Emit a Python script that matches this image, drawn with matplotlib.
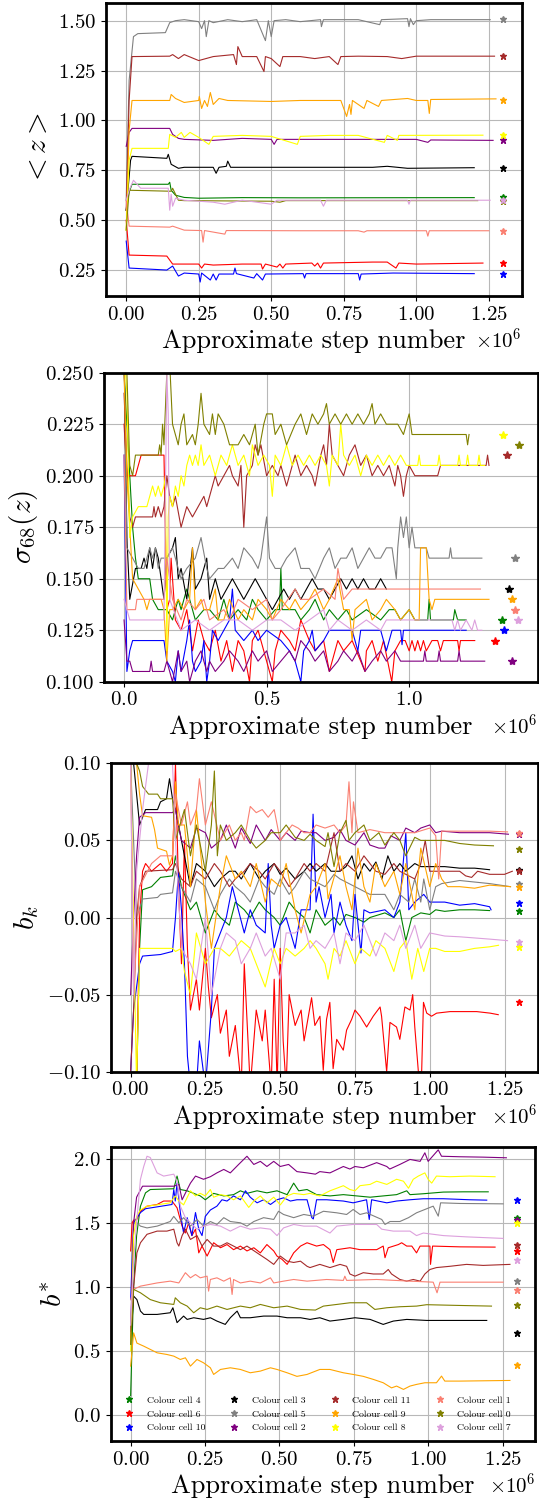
import matplotlib
matplotlib.use('Agg')
import matplotlib.pyplot as plt
from matplotlib.ticker import MultipleLocator

plt.rcParams['font.family'] = 'serif'
plt.rcParams['font.serif'] = ['cmr10']
plt.rcParams['mathtext.fontset'] = 'cm'
plt.rcParams['axes.formatter.use_mathtext'] = True

# colour cells, in the order they show up in the legend
cells = [4, 6, 10, 3, 5, 2, 11, 9, 8, 1, 0, 7]
colours = {0: 'olive', 1: 'salmon', 2: 'purple', 3: 'black', 4: 'green', 5: 'grey',
           6: 'red', 7: 'plum', 8: 'yellow', 9: 'orange', 10: 'blue', 11: 'brown'}

# (step / 1e6, value) pairs
mean_z = {
    5: [(0, 0.60), (0.01, 1.20), (0.025, 1.42), (0.04, 1.435), (0.135, 1.44), (0.15, 1.49), (0.17, 1.50), (0.2, 1.505), (0.25, 1.495), (0.26, 1.46), (0.27, 1.50), (0.276, 1.42), (0.285, 1.50), (0.3, 1.49), (0.35, 1.505), (0.4, 1.495), (0.45, 1.505), (0.48, 1.40), (0.49, 1.50), (0.5, 1.42), (0.51, 1.50), (0.55, 1.505), (0.6, 1.495), (0.67, 1.505), (0.673, 1.47), (0.68, 1.505), (0.8, 1.505), (0.874, 1.48), (0.88, 1.505), (0.97, 1.51), (0.975, 1.47), (0.98, 1.51), (0.99, 1.48), (1.0, 1.50), (1.05, 1.505), (1.255, 1.505)],
    11: [(0, 0.55), (0.01, 1.10), (0.02, 1.32), (0.15, 1.322), (0.16, 1.33), (0.18, 1.31), (0.2, 1.33), (0.25, 1.30), (0.3, 1.32), (0.37, 1.33), (0.38, 1.28), (0.385, 1.37), (0.4, 1.32), (0.45, 1.32), (0.475, 1.245), (0.48, 1.32), (0.5, 1.31), (0.53, 1.27), (0.54, 1.32), (0.6, 1.32), (0.65, 1.31), (0.7, 1.32), (0.73, 1.28), (0.74, 1.32), (0.8, 1.322), (0.9, 1.32), (0.95, 1.31), (1.0, 1.322), (1.27, 1.322)],
    9: [(0, 0.45), (0.01, 0.95), (0.02, 1.10), (0.15, 1.10), (0.155, 1.13), (0.17, 1.11), (0.2, 1.09), (0.25, 1.10), (0.252, 1.12), (0.26, 1.06), (0.27, 1.10), (0.28, 1.07), (0.29, 1.14), (0.3, 1.08), (0.32, 1.11), (0.35, 1.10), (0.5, 1.095), (0.6, 1.10), (0.74, 1.10), (0.76, 1.02), (0.77, 1.08), (0.775, 1.03), (0.78, 1.10), (0.82, 1.06), (0.83, 1.10), (0.87, 1.07), (0.88, 1.10), (0.97, 1.11), (1.0, 1.10), (1.04, 1.10), (1.045, 1.035), (1.05, 1.105), (1.275, 1.108)],
    8: [(0, 0.45), (0.01, 0.80), (0.02, 0.86), (0.145, 0.86), (0.15, 0.93), (0.17, 0.915), (0.19, 0.94), (0.2, 0.915), (0.22, 0.94), (0.25, 0.915), (0.285, 0.88), (0.3, 0.92), (0.4, 0.925), (0.5, 0.92), (0.59, 0.88), (0.6, 0.92), (0.7, 0.925), (0.8, 0.925), (0.89, 0.89), (0.9, 0.925), (0.935, 0.90), (0.94, 0.925), (1.23, 0.926)],
    2: [(0, 0.87), (0.01, 0.94), (0.02, 0.96), (0.15, 0.96), (0.16, 0.93), (0.18, 0.91), (0.2, 0.905), (0.3, 0.90), (0.4, 0.91), (0.5, 0.905), (0.51, 0.88), (0.52, 0.905), (0.6, 0.905), (0.8, 0.905), (1.0, 0.905), (1.04, 0.89), (1.05, 0.902), (1.265, 0.90)],
    3: [(0, 0.55), (0.015, 0.80), (0.02, 0.82), (0.14, 0.81), (0.145, 0.83), (0.155, 0.78), (0.18, 0.76), (0.2, 0.765), (0.3, 0.765), (0.31, 0.735), (0.32, 0.765), (0.345, 0.77), (0.35, 0.796), (0.36, 0.765), (0.6, 0.765), (0.85, 0.765), (0.9, 0.77), (0.97, 0.76), (1.2, 0.763)],
    4: [(0, 0.55), (0.01, 0.64), (0.02, 0.68), (0.145, 0.68), (0.15, 0.69), (0.155, 0.65), (0.17, 0.625), (0.2, 0.614), (0.25, 0.61), (0.4, 0.613), (0.6, 0.612), (1.2, 0.613)],
    7: [(0, 0.60), (0.01, 0.65), (0.025, 0.70), (0.05, 0.66), (0.145, 0.66), (0.15, 0.55), (0.155, 0.63), (0.16, 0.57), (0.17, 0.61), (0.2, 0.60), (0.3, 0.59), (0.34, 0.58), (0.4, 0.60), (0.5, 0.58), (0.52, 0.60), (0.67, 0.60), (0.68, 0.57), (0.69, 0.60), (0.97, 0.60), (0.975, 0.58), (0.98, 0.60), (1.255, 0.60)],
    0: [(0, 0.45), (0.01, 0.65), (0.155, 0.645), (0.16, 0.66), (0.18, 0.60), (0.2, 0.598), (0.5, 0.595), (0.53, 0.59), (0.55, 0.598), (1.212, 0.598)],
    1: [(0, 0.60), (0.01, 0.47), (0.15, 0.465), (0.16, 0.47), (0.2, 0.45), (0.26, 0.448), (0.265, 0.39), (0.27, 0.448), (0.34, 0.43), (0.345, 0.448), (0.6, 0.447), (0.8, 0.447), (0.82, 0.44), (0.83, 0.447), (1.035, 0.447), (1.04, 0.42), (1.045, 0.447), (1.25, 0.447)],
    6: [(0, 0.50), (0.01, 0.325), (0.14, 0.32), (0.16, 0.28), (0.2, 0.28), (0.25, 0.28), (0.26, 0.26), (0.27, 0.28), (0.3, 0.275), (0.4, 0.28), (0.465, 0.28), (0.47, 0.255), (0.48, 0.28), (0.52, 0.265), (0.53, 0.28), (0.54, 0.26), (0.55, 0.28), (0.64, 0.285), (0.65, 0.27), (0.66, 0.285), (0.67, 0.26), (0.68, 0.285), (0.85, 0.29), (0.9, 0.29), (0.93, 0.26), (0.94, 0.285), (1.0, 0.28), (1.23, 0.285)],
    10: [(0, 0.395), (0.01, 0.26), (0.14, 0.25), (0.16, 0.27), (0.18, 0.22), (0.2, 0.235), (0.25, 0.23), (0.255, 0.19), (0.26, 0.235), (0.29, 0.20), (0.3, 0.23), (0.31, 0.20), (0.32, 0.23), (0.37, 0.23), (0.375, 0.26), (0.38, 0.232), (0.44, 0.21), (0.45, 0.232), (0.47, 0.20), (0.48, 0.23), (0.61, 0.232), (0.615, 0.21), (0.62, 0.232), (0.8, 0.232), (0.805, 0.20), (0.81, 0.23), (0.92, 0.235), (1.2, 0.232)],
}
mean_z_stars = {5: 1.506, 11: 1.322, 9: 1.102, 8: 0.928, 2: 0.901, 3: 0.763, 4: 0.617,
                7: 0.60, 0: 0.595, 1: 0.447, 6: 0.283, 10: 0.23}

sigma68 = {
    0: [(0, 0.26), (0.01, 0.25), (0.02, 0.205), (0.03, 0.2), (0.04, 0.21), (0.12, 0.21), (0.125, 0.215), (0.13, 0.21), (0.135, 0.225), (0.14, 0.215), (0.15, 0.25), (0.16, 0.255), (0.17, 0.225), (0.18, 0.22), (0.19, 0.215), (0.2, 0.225), (0.21, 0.23), (0.22, 0.215), (0.24, 0.22), (0.25, 0.215), (0.26, 0.225), (0.27, 0.24), (0.28, 0.225), (0.3, 0.22), (0.31, 0.23), (0.32, 0.22), (0.33, 0.23), (0.35, 0.225), (0.37, 0.215), (0.4, 0.215), (0.42, 0.22), (0.44, 0.215), (0.46, 0.225), (0.47, 0.21), (0.49, 0.225), (0.5, 0.23), (0.52, 0.23), (0.53, 0.22), (0.55, 0.225), (0.57, 0.215), (0.6, 0.225), (0.62, 0.23), (0.64, 0.22), (0.66, 0.23), (0.68, 0.225), (0.7, 0.23), (0.71, 0.235), (0.72, 0.225), (0.74, 0.23), (0.76, 0.225), (0.78, 0.23), (0.8, 0.225), (0.82, 0.23), (0.84, 0.225), (0.86, 0.23), (0.87, 0.235), (0.88, 0.225), (0.9, 0.23), (0.92, 0.225), (0.96, 0.225), (0.98, 0.22), (0.99, 0.225), (1.0, 0.23), (1.01, 0.22), (1.2, 0.22), (1.205, 0.215), (1.21, 0.22)],
    8: [(0, 0.26), (0.01, 0.24), (0.02, 0.17), (0.03, 0.18), (0.05, 0.185), (0.08, 0.185), (0.09, 0.19), (0.1, 0.195), (0.11, 0.19), (0.12, 0.195), (0.13, 0.19), (0.14, 0.195), (0.145, 0.20), (0.15, 0.115), (0.155, 0.18), (0.16, 0.19), (0.17, 0.185), (0.18, 0.195), (0.19, 0.19), (0.2, 0.2), (0.21, 0.195), (0.22, 0.205), (0.23, 0.21), (0.24, 0.205), (0.25, 0.21), (0.26, 0.205), (0.27, 0.215), (0.28, 0.205), (0.3, 0.21), (0.32, 0.2), (0.34, 0.21), (0.36, 0.205), (0.38, 0.215), (0.4, 0.205), (0.42, 0.21), (0.44, 0.2), (0.45, 0.215), (0.47, 0.205), (0.49, 0.21), (0.51, 0.205), (0.52, 0.19), (0.53, 0.21), (0.55, 0.205), (0.57, 0.215), (0.59, 0.205), (0.61, 0.21), (0.63, 0.205), (0.65, 0.21), (0.67, 0.205), (0.69, 0.21), (0.71, 0.205), (0.72, 0.195), (0.73, 0.21), (0.75, 0.205), (0.76, 0.225), (0.77, 0.21), (0.79, 0.205), (0.81, 0.21), (0.83, 0.2), (0.85, 0.21), (0.87, 0.205), (0.89, 0.21), (0.91, 0.205), (0.93, 0.21), (0.95, 0.205), (0.97, 0.21), (0.99, 0.205), (1.03, 0.205), (1.035, 0.21), (1.04, 0.205), (1.1, 0.205), (1.105, 0.21), (1.11, 0.205), (1.17, 0.205), (1.175, 0.21), (1.18, 0.205), (1.2, 0.205), (1.205, 0.21), (1.21, 0.205), (1.24, 0.205), (1.245, 0.21), (1.25, 0.205), (1.265, 0.205)],
    11: [(0, 0.24), (0.01, 0.205), (0.02, 0.18), (0.03, 0.175), (0.04, 0.18), (0.1, 0.18), (0.105, 0.185), (0.11, 0.18), (0.12, 0.185), (0.13, 0.18), (0.14, 0.185), (0.15, 0.2), (0.16, 0.19), (0.17, 0.185), (0.18, 0.19), (0.2, 0.175), (0.21, 0.18), (0.22, 0.185), (0.24, 0.18), (0.26, 0.185), (0.28, 0.19), (0.29, 0.185), (0.3, 0.19), (0.32, 0.2), (0.33, 0.195), (0.35, 0.2), (0.37, 0.205), (0.38, 0.2), (0.4, 0.195), (0.41, 0.205), (0.42, 0.175), (0.43, 0.2), (0.45, 0.205), (0.46, 0.215), (0.47, 0.21), (0.48, 0.215), (0.5, 0.2), (0.52, 0.205), (0.54, 0.2), (0.55, 0.205), (0.57, 0.195), (0.59, 0.205), (0.6, 0.21), (0.62, 0.2), (0.64, 0.205), (0.66, 0.2), (0.67, 0.195), (0.69, 0.21), (0.7, 0.215), (0.71, 0.205), (0.72, 0.225), (0.73, 0.21), (0.75, 0.205), (0.77, 0.2), (0.79, 0.21), (0.81, 0.215), (0.83, 0.205), (0.85, 0.21), (0.87, 0.2), (0.89, 0.205), (0.91, 0.2), (0.93, 0.205), (0.95, 0.195), (0.96, 0.205), (0.97, 0.2), (0.98, 0.19), (0.99, 0.2), (1.0, 0.205), (1.02, 0.2), (1.1, 0.2), (1.11, 0.205), (1.27, 0.205), (1.275, 0.21), (1.28, 0.205)],
    5: [(0, 0.26), (0.01, 0.165), (0.03, 0.16), (0.05, 0.155), (0.07, 0.155), (0.08, 0.16), (0.09, 0.165), (0.1, 0.16), (0.11, 0.165), (0.12, 0.155), (0.13, 0.16), (0.15, 0.16), (0.17, 0.165), (0.19, 0.155), (0.2, 0.15), (0.22, 0.155), (0.25, 0.16), (0.27, 0.17), (0.29, 0.155), (0.3, 0.15), (0.33, 0.155), (0.35, 0.155), (0.38, 0.16), (0.4, 0.155), (0.42, 0.165), (0.45, 0.16), (0.47, 0.155), (0.48, 0.16), (0.5, 0.18), (0.51, 0.16), (0.53, 0.155), (0.55, 0.155), (0.57, 0.16), (0.6, 0.165), (0.62, 0.155), (0.65, 0.155), (0.67, 0.15), (0.7, 0.16), (0.72, 0.165), (0.74, 0.155), (0.76, 0.16), (0.78, 0.16), (0.8, 0.165), (0.82, 0.155), (0.84, 0.16), (0.86, 0.165), (0.88, 0.16), (0.9, 0.16), (0.92, 0.165), (0.94, 0.165), (0.955, 0.15), (0.96, 0.165), (0.97, 0.18), (0.98, 0.17), (0.99, 0.18), (1.0, 0.165), (1.01, 0.175), (1.02, 0.165), (1.06, 0.165), (1.07, 0.16), (1.14, 0.16), (1.145, 0.165), (1.15, 0.16), (1.255, 0.16)],
    3: [(0, 0.26), (0.01, 0.17), (0.02, 0.14), (0.04, 0.155), (0.06, 0.155), (0.07, 0.16), (0.08, 0.155), (0.09, 0.165), (0.1, 0.155), (0.11, 0.165), (0.12, 0.16), (0.14, 0.14), (0.15, 0.16), (0.17, 0.165), (0.18, 0.17), (0.19, 0.15), (0.2, 0.155), (0.22, 0.14), (0.24, 0.165), (0.25, 0.145), (0.27, 0.15), (0.29, 0.16), (0.3, 0.14), (0.32, 0.15), (0.34, 0.14), (0.36, 0.145), (0.38, 0.15), (0.4, 0.145), (0.42, 0.14), (0.44, 0.145), (0.46, 0.15), (0.48, 0.145), (0.5, 0.14), (0.52, 0.135), (0.54, 0.14), (0.56, 0.145), (0.58, 0.14), (0.6, 0.145), (0.62, 0.14), (0.64, 0.145), (0.66, 0.15), (0.68, 0.145), (0.7, 0.145), (0.72, 0.14), (0.74, 0.145), (0.76, 0.15), (0.78, 0.145), (0.8, 0.15), (0.82, 0.145), (0.84, 0.15), (0.86, 0.145), (0.88, 0.145), (0.9, 0.15), (0.92, 0.145)],
    1: [(0, 0.21), (0.01, 0.135), (0.04, 0.135), (0.045, 0.14), (0.14, 0.14), (0.15, 0.16), (0.16, 0.15), (0.17, 0.14), (0.2, 0.13), (0.22, 0.14), (0.25, 0.135), (0.28, 0.14), (0.3, 0.13), (0.35, 0.135), (0.37, 0.13), (0.4, 0.14), (0.45, 0.135), (0.5, 0.14), (0.52, 0.13), (0.55, 0.135), (0.6, 0.145), (0.62, 0.14), (0.65, 0.14), (0.7, 0.145), (0.74, 0.14), (0.75, 0.155), (0.77, 0.14), (0.8, 0.145), (1.25, 0.145)],
    9: [(0, 0.25), (0.01, 0.2), (0.02, 0.175), (0.03, 0.15), (0.05, 0.145), (0.07, 0.14), (0.08, 0.135), (0.09, 0.14), (0.13, 0.14), (0.14, 0.135), (0.15, 0.11), (0.16, 0.135), (0.17, 0.135), (0.19, 0.14), (0.21, 0.135), (0.23, 0.14), (0.24, 0.165), (0.25, 0.135), (0.27, 0.14), (0.28, 0.135), (0.3, 0.135), (0.32, 0.145), (0.33, 0.13), (0.35, 0.13), (0.37, 0.14), (0.4, 0.13), (0.42, 0.135), (0.45, 0.13), (0.47, 0.14), (0.5, 0.135), (0.52, 0.13), (0.55, 0.14), (0.58, 0.135), (0.6, 0.14), (0.62, 0.135), (0.65, 0.14), (0.67, 0.145), (0.7, 0.135), (0.72, 0.14), (0.75, 0.15), (0.77, 0.135), (0.79, 0.135), (0.8, 0.12), (0.81, 0.135), (0.85, 0.14), (0.87, 0.13), (0.9, 0.135), (0.92, 0.14), (0.95, 0.135), (0.97, 0.13), (1.0, 0.135), (1.02, 0.13), (1.035, 0.13), (1.04, 0.165), (1.06, 0.165), (1.07, 0.14), (1.08, 0.135), (1.09, 0.14), (1.28, 0.14)],
    4: [(0, 0.25), (0.02, 0.2), (0.03, 0.175), (0.04, 0.16), (0.05, 0.15), (0.09, 0.15), (0.1, 0.14), (0.12, 0.135), (0.15, 0.135), (0.17, 0.13), (0.19, 0.14), (0.2, 0.135), (0.22, 0.145), (0.25, 0.13), (0.28, 0.135), (0.3, 0.135), (0.33, 0.13), (0.35, 0.14), (0.37, 0.13), (0.4, 0.135), (0.43, 0.13), (0.45, 0.14), (0.47, 0.135), (0.5, 0.13), (0.53, 0.135), (0.545, 0.135), (0.55, 0.155), (0.555, 0.135), (0.6, 0.135), (0.62, 0.13), (0.65, 0.135), (0.67, 0.14), (0.7, 0.13), (0.72, 0.135), (0.75, 0.13), (0.78, 0.135), (0.8, 0.13), (0.85, 0.135), (0.9, 0.13), (0.93, 0.135), (0.95, 0.135), (0.97, 0.13), (1.0, 0.135), (1.02, 0.13), (1.065, 0.13), (1.07, 0.14), (1.075, 0.13), (1.155, 0.13), (1.16, 0.135), (1.17, 0.13), (1.2, 0.13)],
    7: [(0, 0.14), (0.02, 0.13), (0.14, 0.13), (0.15, 0.25), (0.155, 0.23), (0.16, 0.14), (0.2, 0.125), (0.25, 0.13), (0.3, 0.125), (0.35, 0.13), (0.4, 0.13), (0.45, 0.125), (0.5, 0.13), (0.55, 0.13), (0.6, 0.125), (0.65, 0.13), (0.7, 0.135), (0.72, 0.125), (0.75, 0.13), (0.8, 0.125), (0.85, 0.13), (0.9, 0.125), (0.92, 0.13), (1.15, 0.13), (1.16, 0.125), (1.17, 0.13), (1.18, 0.125), (1.2, 0.13), (1.22, 0.125), (1.23, 0.13), (1.24, 0.125), (1.255, 0.125)],
    10: [(0, 0.21), (0.01, 0.105), (0.02, 0.115), (0.03, 0.12), (0.14, 0.12), (0.15, 0.11), (0.17, 0.105), (0.18, 0.1), (0.19, 0.115), (0.2, 0.105), (0.22, 0.12), (0.23, 0.13), (0.24, 0.11), (0.25, 0.105), (0.27, 0.11), (0.28, 0.12), (0.29, 0.1), (0.3, 0.11), (0.31, 0.125), (0.33, 0.12), (0.35, 0.125), (0.37, 0.13), (0.38, 0.145), (0.39, 0.125), (0.42, 0.12), (0.45, 0.125), (0.47, 0.12), (0.5, 0.125), (0.55, 0.12), (0.58, 0.115), (0.6, 0.11), (0.62, 0.1), (0.63, 0.115), (0.65, 0.12), (0.66, 0.125), (0.67, 0.115), (0.7, 0.12), (0.72, 0.125), (0.8, 0.125), (0.82, 0.115), (0.83, 0.125), (0.9, 0.125), (0.92, 0.115), (0.93, 0.12), (0.94, 0.125), (0.97, 0.125), (0.975, 0.118), (0.98, 0.125), (1.2, 0.125)],
    6: [(0, 0.225), (0.01, 0.2), (0.04, 0.2), (0.05, 0.205), (0.06, 0.21), (0.14, 0.21), (0.15, 0.135), (0.16, 0.14), (0.165, 0.16), (0.18, 0.13), (0.2, 0.125), (0.22, 0.135), (0.24, 0.115), (0.26, 0.13), (0.28, 0.12), (0.3, 0.115), (0.32, 0.125), (0.34, 0.11), (0.36, 0.12), (0.38, 0.105), (0.4, 0.12), (0.42, 0.115), (0.44, 0.1), (0.45, 0.12), (0.47, 0.125), (0.5, 0.11), (0.52, 0.1), (0.53, 0.115), (0.55, 0.125), (0.58, 0.12), (0.6, 0.115), (0.62, 0.13), (0.65, 0.12), (0.67, 0.115), (0.7, 0.12), (0.72, 0.105), (0.75, 0.12), (0.77, 0.115), (0.8, 0.12), (0.845, 0.105), (0.85, 0.115), (0.87, 0.12), (0.89, 0.11), (0.91, 0.12), (0.939, 0.1), (0.95, 0.115), (0.97, 0.12), (0.986, 0.12), (1.0, 0.115), (1.01, 0.12), (1.02, 0.115), (1.03, 0.12), (1.04, 0.115), (1.05, 0.12), (1.06, 0.115), (1.08, 0.12), (1.1, 0.12), (1.11, 0.115), (1.12, 0.12), (1.17, 0.12), (1.175, 0.115), (1.18, 0.12), (1.23, 0.12)],
    2: [(0, 0.13), (0.01, 0.11), (0.02, 0.11), (0.03, 0.105), (0.09, 0.105), (0.095, 0.11), (0.1, 0.105), (0.14, 0.105), (0.15, 0.11), (0.17, 0.1), (0.19, 0.115), (0.2, 0.105), (0.22, 0.11), (0.23, 0.1), (0.25, 0.11), (0.27, 0.115), (0.29, 0.105), (0.3, 0.11), (0.32, 0.105), (0.35, 0.11), (0.37, 0.115), (0.4, 0.11), (0.42, 0.105), (0.45, 0.115), (0.47, 0.11), (0.5, 0.115), (0.52, 0.105), (0.55, 0.11), (0.58, 0.115), (0.6, 0.11), (0.62, 0.12), (0.65, 0.115), (0.67, 0.11), (0.7, 0.115), (0.72, 0.105), (0.75, 0.11), (0.77, 0.115), (0.8, 0.11), (0.82, 0.115), (0.845, 0.105), (0.87, 0.11), (0.9, 0.115), (0.92, 0.11), (0.95, 0.115), (0.97, 0.11), (1.05, 0.11), (1.055, 0.115), (1.06, 0.11), (1.1, 0.11), (1.105, 0.115), (1.11, 0.11), (1.17, 0.11), (1.175, 0.115), (1.18, 0.11), (1.265, 0.11)],
}
# this panel has its star markers spread out in step
sigma68_stars = {8: (1.328, 0.22), 11: (1.342, 0.21), 0: (1.386, 0.215), 5: (1.370, 0.16),
                 3: (1.351, 0.145), 9: (1.362, 0.14), 1: (1.371, 0.135), 7: (1.381, 0.13),
                 4: (1.324, 0.13), 10: (1.333, 0.125), 6: (1.300, 0.12), 2: (1.362, 0.11)}

b_k = {
    1: [(0, 0.1), (0.01, -0.05), (0.03, 0.02), (0.07, 0.035), (0.1, 0.04), (0.14, 0.04), (0.15, 0.08), (0.17, 0.06), (0.19, 0.075), (0.2, 0.06), (0.22, 0.07), (0.23, 0.09), (0.25, 0.06), (0.27, 0.075), (0.3, 0.05), (0.33, 0.06), (0.35, 0.05), (0.37, 0.055), (0.38, 0.05), (0.4, 0.072), (0.42, 0.068), (0.44, 0.07), (0.46, 0.065), (0.48, 0.07), (0.5, 0.05), (0.52, 0.055), (0.54, 0.06), (0.56, 0.058), (0.58, 0.055), (0.6, 0.055), (0.62, 0.06), (0.65, 0.058), (0.68, 0.06), (0.7, 0.055), (0.72, 0.06), (0.73, 0.088), (0.74, 0.055), (0.745, 0.075), (0.76, 0.055), (0.8, 0.057), (0.85, 0.055), (0.9, 0.055), (0.95, 0.055), (1.0, 0.058), (1.02, 0.053), (1.03, 0.025), (1.04, 0.056), (1.1, 0.056), (1.2, 0.056), (1.26, 0.0555)],
    2: [(0, -0.05), (0.01, 0.0), (0.02, 0.04), (0.03, 0.065), (0.05, 0.068), (0.14, 0.068), (0.15, 0.07), (0.17, 0.05), (0.2, 0.045), (0.22, 0.058), (0.25, 0.055), (0.27, 0.045), (0.3, 0.05), (0.32, 0.06), (0.35, 0.045), (0.37, 0.058), (0.4, 0.048), (0.42, 0.06), (0.45, 0.05), (0.47, 0.057), (0.5, 0.05), (0.52, 0.055), (0.55, 0.05), (0.57, 0.056), (0.6, 0.055), (0.62, 0.055), (0.65, 0.05), (0.68, 0.052), (0.7, 0.057), (0.72, 0.05), (0.75, 0.047), (0.78, 0.055), (0.8, 0.047), (0.83, 0.045), (0.85, 0.045), (0.87, 0.053), (0.9, 0.05), (0.92, 0.058), (0.95, 0.055), (0.97, 0.058), (1.0, 0.06), (1.02, 0.055), (1.04, 0.056), (1.1, 0.055), (1.2, 0.055), (1.263, 0.054)],
    0: [(0, 0.1), (0.02, 0.1), (0.03, 0.095), (0.04, 0.085), (0.06, 0.08), (0.09, 0.08), (0.1, 0.077), (0.14, 0.077), (0.15, 0.05), (0.18, 0.07), (0.2, 0.04), (0.22, 0.06), (0.25, 0.03), (0.27, 0.06), (0.28, 0.095), (0.29, 0.04), (0.3, 0.06), (0.32, 0.05), (0.35, 0.055), (0.37, 0.06), (0.4, 0.05), (0.42, 0.045), (0.45, 0.05), (0.47, 0.055), (0.5, 0.055), (0.52, 0.06), (0.55, 0.052), (0.58, 0.05), (0.6, 0.054), (0.62, 0.05), (0.65, 0.046), (0.66, 0.055), (0.68, 0.033), (0.7, 0.055), (0.72, 0.063), (0.73, 0.05), (0.75, 0.055), (0.78, 0.06), (0.8, 0.05), (0.83, 0.055), (0.85, 0.047), (0.88, 0.055), (0.9, 0.05), (0.92, 0.04), (0.95, 0.052), (0.97, 0.05), (1.0, 0.05), (1.05, 0.05), (1.1, 0.048), (1.15, 0.047), (1.213, 0.0465)],
    3: [(0, 0.1), (0.01, 0.1), (0.03, 0.06), (0.04, 0.065), (0.05, 0.07), (0.09, 0.07), (0.1, 0.075), (0.12, 0.077), (0.13, 0.09), (0.14, 0.077), (0.15, 0.07), (0.17, 0.05), (0.2, 0.02), (0.22, 0.035), (0.25, 0.03), (0.28, 0.02), (0.3, 0.025), (0.33, 0.03), (0.35, 0.03), (0.37, 0.025), (0.4, 0.035), (0.43, 0.025), (0.45, 0.03), (0.48, 0.035), (0.5, 0.028), (0.52, 0.032), (0.55, 0.025), (0.58, 0.03), (0.6, 0.035), (0.62, 0.03), (0.65, 0.035), (0.67, 0.03), (0.7, 0.03), (0.72, 0.033), (0.74, 0.04), (0.76, 0.025), (0.78, 0.035), (0.8, 0.03), (0.82, 0.036), (0.84, 0.025), (0.86, 0.04), (0.88, 0.03), (0.9, 0.035), (0.92, 0.03), (0.95, 0.035), (0.97, 0.033), (1.0, 0.033), (1.05, 0.033), (1.1, 0.032), (1.15, 0.032), (1.2, 0.031)],
    11: [(0, -0.1), (0.01, -0.06), (0.02, 0.0), (0.03, 0.02), (0.05, 0.03), (0.14, 0.031), (0.15, 0.035), (0.17, 0.025), (0.2, 0.02), (0.22, 0.03), (0.25, 0.025), (0.28, 0.035), (0.3, 0.03), (0.33, 0.02), (0.35, 0.025), (0.38, 0.03), (0.4, 0.035), (0.43, 0.03), (0.45, 0.025), (0.48, 0.035), (0.5, 0.03), (0.53, 0.02), (0.55, 0.025), (0.58, 0.035), (0.6, 0.03), (0.62, 0.035), (0.65, 0.03), (0.68, 0.055), (0.7, 0.03), (0.72, 0.035), (0.75, 0.03), (0.78, 0.04), (0.8, 0.035), (0.82, 0.03), (0.85, 0.028), (0.88, 0.035), (0.9, 0.03), (0.95, 0.025), (0.97, 0.035), (0.985, 0.05), (1.0, 0.03), (1.05, 0.03), (1.1, 0.03), (1.12, 0.027), (1.14, 0.026), (1.16, 0.03), (1.2, 0.028), (1.25, 0.028), (1.276, 0.03)],
    5: [(0, 0.1), (0.02, 0.0), (0.04, 0.012), (0.09, 0.013), (0.1, 0.015), (0.14, 0.016), (0.15, 0.03), (0.17, 0.02), (0.2, 0.01), (0.22, 0.025), (0.25, 0.02), (0.28, 0.005), (0.3, 0.015), (0.33, 0.025), (0.35, 0.02), (0.38, 0.015), (0.4, 0.01), (0.43, 0.025), (0.45, 0.02), (0.48, 0.015), (0.5, 0.025), (0.53, 0.015), (0.55, 0.02), (0.58, 0.03), (0.6, 0.025), (0.65, 0.02), (0.68, 0.028), (0.7, 0.025), (0.75, 0.02), (0.8, 0.015), (0.85, 0.015), (0.88, 0.005), (0.9, 0.015), (0.93, 0.01), (0.95, 0.025), (0.97, 0.01), (0.98, 0.025), (1.0, 0.005), (1.02, 0.02), (1.04, 0.022), (1.1, 0.024), (1.15, 0.023), (1.2, 0.022), (1.27, 0.02)],
    9: [(0, 0.1), (0.02, 0.1), (0.03, 0.08), (0.04, 0.066), (0.07, 0.065), (0.08, 0.057), (0.09, 0.045), (0.12, 0.043), (0.13, 0.034), (0.14, 0.04), (0.15, 0.088), (0.16, 0.06), (0.18, 0.06), (0.2, 0.02), (0.22, 0.07), (0.24, 0.03), (0.25, 0.01), (0.27, -0.02), (0.3, 0.02), (0.32, 0.04), (0.35, 0.025), (0.37, 0.03), (0.4, 0.02), (0.42, 0.035), (0.45, 0.01), (0.47, 0.025), (0.5, 0.02), (0.52, 0.035), (0.55, 0.005), (0.57, -0.01), (0.6, 0.015), (0.62, 0.02), (0.65, 0.035), (0.66, 0.012), (0.7, 0.04), (0.72, 0.02), (0.74, 0.005), (0.76, 0.045), (0.78, 0.02), (0.8, 0.01), (0.82, 0.035), (0.85, 0.02), (0.88, 0.03), (0.9, 0.015), (0.92, 0.035), (0.95, 0.005), (0.97, 0.045), (1.0, 0.02), (1.02, 0.035), (1.04, 0.025), (1.06, 0.02), (1.1, 0.02), (1.15, 0.019), (1.2, 0.021), (1.27, 0.02)],
    10: [(0, -0.1), (0.01, -0.06), (0.03, -0.03), (0.04, -0.025), (0.1, -0.024), (0.14, -0.022), (0.15, 0.0), (0.16, 0.03), (0.17, 0.005), (0.18, -0.03), (0.19, -0.09), (0.2, -0.11), (0.22, -0.11), (0.23, -0.08), (0.25, -0.11), (0.27, -0.06), (0.28, -0.02), (0.3, -0.01), (0.32, 0.0), (0.34, 0.02), (0.36, 0.005), (0.38, -0.01), (0.4, 0.005), (0.42, -0.005), (0.45, -0.01), (0.46, 0.035), (0.47, -0.005), (0.48, -0.02), (0.5, -0.005), (0.52, 0.0), (0.55, -0.02), (0.57, 0.005), (0.6, 0.005), (0.61, 0.067), (0.62, 0.01), (0.63, 0.02), (0.65, 0.0), (0.67, 0.015), (0.68, -0.01), (0.7, 0.01), (0.72, -0.005), (0.74, -0.015), (0.75, 0.015), (0.77, -0.023), (0.78, 0.005), (0.8, 0.003), (0.85, 0.005), (0.88, 0.0), (0.9, 0.01), (0.92, 0.055), (0.93, 0.005), (0.95, 0.01), (0.98, 0.015), (1.0, 0.01), (1.05, 0.01), (1.1, 0.008), (1.15, 0.009), (1.2, 0.007), (1.205, 0.005)],
    4: [(0, -0.11), (0.02, -0.11), (0.03, -0.02), (0.04, 0.018), (0.07, 0.02), (0.1, 0.026), (0.14, 0.027), (0.15, 0.04), (0.17, 0.02), (0.2, 0.005), (0.22, 0.01), (0.25, -0.01), (0.28, 0.005), (0.3, 0.0), (0.33, -0.005), (0.35, 0.01), (0.38, 0.005), (0.4, 0.0), (0.43, 0.01), (0.45, 0.005), (0.48, 0.0), (0.5, -0.005), (0.53, 0.01), (0.55, 0.005), (0.58, 0.0), (0.6, -0.01), (0.62, 0.005), (0.65, -0.005), (0.68, 0.0), (0.7, -0.005), (0.72, 0.002), (0.75, 0.0), (0.78, -0.003), (0.8, 0.0), (0.85, 0.003), (0.88, 0.0), (0.9, 0.005), (0.92, -0.015), (0.94, 0.0), (0.97, 0.003), (1.0, 0.002), (1.02, 0.005), (1.05, 0.004), (1.1, 0.005), (1.15, 0.005), (1.2, 0.0045)],
    7: [(0, 0.1), (0.01, -0.05), (0.02, 0.03), (0.04, 0.07), (0.06, 0.1), (0.08, 0.105), (0.12, 0.105), (0.14, 0.1), (0.15, 0.05), (0.17, -0.02), (0.2, -0.03), (0.22, -0.04), (0.25, 0.0), (0.27, -0.05), (0.3, -0.02), (0.32, -0.01), (0.35, -0.015), (0.37, -0.03), (0.4, -0.02), (0.42, -0.01), (0.45, -0.025), (0.47, -0.02), (0.5, -0.04), (0.52, -0.01), (0.55, -0.01), (0.58, -0.005), (0.6, -0.02), (0.62, -0.015), (0.65, -0.02), (0.68, -0.01), (0.7, -0.03), (0.72, -0.01), (0.75, -0.015), (0.78, -0.005), (0.8, -0.015), (0.82, -0.025), (0.85, -0.01), (0.88, -0.015), (0.9, -0.005), (0.92, -0.02), (0.95, -0.005), (0.97, -0.02), (1.0, -0.01), (1.05, -0.012), (1.1, -0.0125), (1.2, -0.014), (1.26, -0.015)],
    8: [(0, 0.1), (0.02, -0.11), (0.03, -0.02), (0.14, -0.02), (0.15, -0.022), (0.17, -0.02), (0.18, -0.035), (0.2, -0.05), (0.22, -0.01), (0.25, -0.03), (0.28, -0.02), (0.3, -0.02), (0.33, -0.025), (0.35, -0.02), (0.37, -0.015), (0.4, -0.02), (0.42, -0.03), (0.45, -0.045), (0.48, -0.02), (0.5, -0.03), (0.52, -0.02), (0.55, -0.025), (0.58, -0.02), (0.6, -0.015), (0.62, -0.02), (0.65, -0.03), (0.66, -0.04), (0.68, -0.02), (0.7, -0.025), (0.72, -0.015), (0.75, -0.03), (0.77, -0.02), (0.8, -0.025), (0.82, -0.015), (0.85, -0.02), (0.88, -0.035), (0.9, -0.02), (0.92, -0.015), (0.94, -0.04), (0.96, -0.02), (0.98, -0.035), (1.0, -0.02), (1.02, -0.02), (1.05, -0.022), (1.1, -0.022), (1.15, -0.02), (1.2, -0.019), (1.23, -0.018)],
    6: [(0, -0.11), (0.02, -0.11), (0.03, 0.0), (0.04, 0.03), (0.05, 0.035), (0.07, 0.03), (0.1, 0.035), (0.12, 0.03), (0.14, 0.035), (0.15, 0.1), (0.16, 0.02), (0.17, -0.03), (0.18, 0.05), (0.19, -0.02), (0.2, -0.06), (0.22, -0.04), (0.23, -0.06), (0.25, -0.02), (0.26, -0.045), (0.27, -0.065), (0.29, -0.05), (0.3, -0.075), (0.32, -0.06), (0.33, -0.09), (0.35, -0.07), (0.37, -0.11), (0.38, -0.03), (0.4, -0.11), (0.42, -0.06), (0.44, -0.08), (0.45, -0.06), (0.47, -0.11), (0.48, -0.04), (0.49, -0.11), (0.5, -0.02), (0.51, -0.08), (0.52, -0.11), (0.53, -0.05), (0.55, -0.07), (0.57, -0.06), (0.58, -0.08), (0.605, -0.052), (0.616, -0.07), (0.633, -0.064), (0.644, -0.099), (0.655, -0.066), (0.666, -0.055), (0.677, -0.098), (0.689, -0.079), (0.711, -0.086), (0.722, -0.073), (0.739, -0.066), (0.75, -0.06), (0.767, -0.064), (0.789, -0.071), (0.811, -0.064), (0.834, -0.058), (0.839, -0.064), (0.856, -0.1), (0.867, -0.068), (0.889, -0.071), (0.9, -0.079), (0.917, -0.058), (0.934, -0.06), (0.943, -0.05), (0.95, -0.071), (0.962, -0.1), (0.973, -0.1), (0.979, -0.055), (0.99, -0.062), (1.006, -0.064), (1.023, -0.062), (1.068, -0.061), (1.112, -0.061), (1.157, -0.061), (1.202, -0.062), (1.229, -0.063)],
}
b_k_stars = {1: 0.055, 2: 0.054, 0: 0.0445, 11: 0.030, 3: 0.031, 5: 0.022, 9: 0.020,
             10: 0.0095, 4: 0.004, 7: -0.016, 8: -0.019, 6: -0.055}

b_star = {
    4: [(0, 0.15), (0.01, 1.0), (0.02, 1.4), (0.033, 1.63), (0.05, 1.734), (0.066, 1.76), (0.145, 1.766), (0.156, 1.865), (0.167, 1.76), (0.19, 1.75), (0.212, 1.73), (0.234, 1.71), (0.251, 1.68), (0.279, 1.73), (0.313, 1.71), (0.346, 1.72), (0.369, 1.75), (0.391, 1.73), (0.425, 1.75), (0.458, 1.734), (0.492, 1.75), (0.526, 1.72), (0.548, 1.81), (0.565, 1.75), (0.593, 1.76), (0.625, 1.72), (0.67, 1.71), (0.715, 1.72), (0.76, 1.71), (0.805, 1.70), (0.849, 1.71), (0.894, 1.72), (0.928, 1.75), (0.939, 1.72), (0.984, 1.727), (1.051, 1.74), (1.118, 1.742), (1.202, 1.742)],
    6: [(0, 1.28), (0.005, 1.5), (0.01, 1.52), (0.021, 1.526), (0.033, 1.59), (0.055, 1.63), (0.089, 1.643), (0.111, 1.67), (0.139, 1.67), (0.156, 1.617), (0.173, 1.474), (0.184, 1.42), (0.195, 1.50), (0.206, 1.40), (0.218, 1.45), (0.229, 1.265), (0.24, 1.318), (0.257, 1.24), (0.279, 1.344), (0.302, 1.305), (0.324, 1.33), (0.346, 1.29), (0.369, 1.318), (0.391, 1.28), (0.414, 1.305), (0.436, 1.265), (0.458, 1.33), (0.481, 1.28), (0.492, 1.24), (0.509, 1.214), (0.526, 1.175), (0.548, 1.265), (0.571, 1.318), (0.593, 1.344), (0.625, 1.318), (0.648, 1.33), (0.67, 1.29), (0.681, 1.19), (0.693, 1.29), (0.737, 1.305), (0.771, 1.29), (0.827, 1.29), (0.849, 1.318), (0.855, 1.227), (0.866, 1.305), (0.9, 1.33), (0.911, 1.344), (0.928, 1.318), (0.945, 1.318), (0.961, 1.265), (0.973, 1.318), (1.006, 1.318), (1.008, 1.175), (1.015, 1.318), (1.107, 1.312), (1.225, 1.31)],
    10: [(0, 0.9), (0.01, 1.5), (0.033, 1.58), (0.05, 1.61), (0.139, 1.643), (0.145, 1.76), (0.15, 1.67), (0.156, 1.81), (0.167, 1.58), (0.178, 1.42), (0.19, 1.54), (0.206, 1.40), (0.218, 1.58), (0.229, 1.45), (0.24, 1.40), (0.251, 1.55), (0.268, 1.60), (0.29, 1.63), (0.307, 1.68), (0.324, 1.67), (0.346, 1.71), (0.369, 1.68), (0.386, 1.75), (0.402, 1.70), (0.425, 1.656), (0.447, 1.68), (0.47, 1.643), (0.492, 1.68), (0.514, 1.695), (0.537, 1.67), (0.559, 1.68), (0.593, 1.68), (0.609, 1.54), (0.614, 1.53), (0.625, 1.68), (0.659, 1.68), (0.715, 1.67), (0.748, 1.656), (0.793, 1.68), (0.802, 1.526), (0.81, 1.68), (0.861, 1.656), (0.894, 1.67), (0.939, 1.68), (0.984, 1.688), (1.051, 1.688), (1.14, 1.68), (1.197, 1.677)],
    3: [(0, 0.55), (0.01, 0.927), (0.021, 0.90), (0.033, 0.81), (0.044, 0.784), (0.089, 0.784), (0.133, 0.797), (0.142, 0.836), (0.156, 0.72), (0.178, 0.771), (0.19, 0.745), (0.212, 0.758), (0.245, 0.745), (0.268, 0.758), (0.29, 0.732), (0.318, 0.706), (0.335, 0.758), (0.358, 0.81), (0.369, 0.758), (0.402, 0.758), (0.447, 0.771), (0.492, 0.771), (0.526, 0.758), (0.571, 0.758), (0.603, 0.745), (0.636, 0.758), (0.67, 0.732), (0.715, 0.745), (0.754, 0.758), (0.805, 0.745), (0.849, 0.706), (0.883, 0.732), (0.928, 0.745), (0.995, 0.737), (1.197, 0.737)],
    5: [(0, 0.6), (0.01, 1.5), (0.021, 1.5), (0.033, 1.474), (0.055, 1.46), (0.089, 1.474), (0.133, 1.51), (0.145, 1.55), (0.162, 1.50), (0.178, 1.54), (0.201, 1.474), (0.223, 1.526), (0.245, 1.474), (0.268, 1.51), (0.29, 1.487), (0.313, 1.54), (0.335, 1.51), (0.369, 1.50), (0.391, 1.474), (0.414, 1.51), (0.447, 1.54), (0.481, 1.526), (0.497, 1.59), (0.514, 1.565), (0.548, 1.54), (0.582, 1.565), (0.614, 1.552), (0.648, 1.59), (0.693, 1.578), (0.726, 1.565), (0.748, 1.604), (0.771, 1.565), (0.793, 1.578), (0.844, 1.526), (0.855, 1.487), (0.872, 1.51), (0.905, 1.51), (0.934, 1.54), (0.961, 1.578), (0.989, 1.604), (1.017, 1.63), (1.034, 1.552), (1.042, 1.656), (1.107, 1.651), (1.252, 1.648)],
    2: [(0, 0.65), (0.01, 1.5), (0.02, 1.7), (0.04, 1.786), (0.145, 1.786), (0.162, 1.80), (0.173, 1.68), (0.19, 1.76), (0.201, 1.81), (0.218, 1.865), (0.245, 1.84), (0.268, 1.86), (0.29, 1.89), (0.313, 1.917), (0.335, 1.89), (0.363, 1.956), (0.391, 2.02), (0.414, 1.956), (0.436, 1.98), (0.458, 1.94), (0.481, 1.98), (0.503, 1.94), (0.531, 1.956), (0.559, 1.90), (0.593, 1.89), (0.621, 1.88), (0.636, 1.90), (0.67, 1.89), (0.715, 1.94), (0.737, 1.92), (0.754, 1.94), (0.782, 1.93), (0.827, 1.97), (0.861, 1.94), (0.871, 1.92), (0.905, 1.956), (0.939, 1.995), (0.973, 1.98), (0.989, 2.047), (1.0, 1.98), (1.034, 2.07), (1.045, 2.02), (1.107, 2.016), (1.185, 2.013), (1.263, 2.008)],
    11: [(0, 0.6), (0.01, 1.0), (0.021, 1.265), (0.033, 1.344), (0.055, 1.41), (0.089, 1.435), (0.122, 1.435), (0.145, 1.45), (0.156, 1.344), (0.162, 1.318), (0.173, 1.40), (0.184, 1.45), (0.201, 1.37), (0.223, 1.40), (0.24, 1.318), (0.257, 1.37), (0.279, 1.318), (0.302, 1.318), (0.324, 1.344), (0.346, 1.318), (0.369, 1.29), (0.391, 1.318), (0.425, 1.265), (0.458, 1.214), (0.481, 1.175), (0.503, 1.24), (0.526, 1.20), (0.548, 1.19), (0.571, 1.20), (0.593, 1.16), (0.603, 1.15), (0.636, 1.175), (0.67, 1.15), (0.704, 1.175), (0.726, 1.16), (0.737, 1.10), (0.754, 1.083), (0.782, 1.11), (0.816, 1.10), (0.849, 1.10), (0.866, 1.135), (0.877, 1.10), (0.905, 1.057), (0.928, 1.044), (0.95, 1.057), (0.973, 1.044), (0.989, 1.10), (1.006, 1.135), (1.028, 1.15), (1.073, 1.16), (1.129, 1.175), (1.185, 1.167), (1.275, 1.175)],
    9: [(0, 0.38), (0.01, 0.64), (0.021, 0.56), (0.044, 0.536), (0.089, 0.484), (0.122, 0.471), (0.145, 0.458), (0.167, 0.432), (0.184, 0.445), (0.201, 0.38), (0.223, 0.432), (0.245, 0.406), (0.268, 0.367), (0.279, 0.315), (0.302, 0.354), (0.335, 0.367), (0.369, 0.354), (0.402, 0.328), (0.436, 0.341), (0.47, 0.367), (0.492, 0.354), (0.526, 0.328), (0.559, 0.30), (0.593, 0.315), (0.636, 0.354), (0.67, 0.354), (0.715, 0.328), (0.748, 0.315), (0.782, 0.30), (0.816, 0.276), (0.849, 0.25), (0.877, 0.21), (0.894, 0.224), (0.917, 0.198), (0.939, 0.224), (0.961, 0.237), (0.989, 0.25), (1.028, 0.25), (1.045, 0.302), (1.056, 0.263), (1.107, 0.263), (1.275, 0.268)],
    8: [(0, 0.5), (0.01, 1.4), (0.02, 1.55), (0.033, 1.60), (0.055, 1.63), (0.089, 1.64), (0.133, 1.656), (0.15, 1.71), (0.162, 1.67), (0.178, 1.64), (0.201, 1.75), (0.218, 1.71), (0.234, 1.73), (0.251, 1.71), (0.268, 1.76), (0.279, 1.70), (0.302, 1.72), (0.324, 1.71), (0.346, 1.68), (0.369, 1.71), (0.397, 1.62), (0.414, 1.67), (0.436, 1.71), (0.458, 1.656), (0.481, 1.70), (0.503, 1.64), (0.526, 1.71), (0.548, 1.73), (0.582, 1.72), (0.603, 1.73), (0.636, 1.71), (0.67, 1.75), (0.693, 1.77), (0.715, 1.79), (0.737, 1.76), (0.754, 1.75), (0.771, 1.79), (0.805, 1.80), (0.827, 1.825), (0.861, 1.80), (0.894, 1.84), (0.917, 1.825), (0.934, 1.77), (0.95, 1.84), (0.967, 1.865), (0.989, 1.89), (1.0, 1.84), (1.012, 1.81), (1.028, 1.865), (1.073, 1.86), (1.14, 1.865), (1.225, 1.86)],
    1: [(0, 0.9), (0.01, 0.98), (0.033, 1.005), (0.089, 1.03), (0.133, 1.044), (0.162, 1.03), (0.184, 1.11), (0.201, 1.07), (0.218, 1.096), (0.234, 1.07), (0.257, 1.083), (0.262, 0.966), (0.268, 1.057), (0.29, 1.07), (0.313, 1.044), (0.335, 1.07), (0.341, 0.94), (0.346, 1.057), (0.369, 1.03), (0.402, 1.044), (0.436, 1.03), (0.47, 1.07), (0.481, 1.03), (0.514, 1.044), (0.548, 1.057), (0.593, 1.044), (0.659, 1.057), (0.715, 1.05), (0.72, 1.083), (0.726, 1.05), (0.827, 1.057), (0.939, 1.044), (1.017, 1.036), (1.03, 0.953), (1.04, 1.036), (1.252, 1.036)],
    0: [(0, 0.55), (0.01, 0.98), (0.033, 0.953), (0.066, 0.90), (0.1, 0.875), (0.145, 0.862), (0.15, 0.914), (0.167, 0.875), (0.19, 0.849), (0.212, 0.797), (0.234, 0.836), (0.257, 0.823), (0.29, 0.849), (0.324, 0.823), (0.369, 0.849), (0.402, 0.836), (0.436, 0.862), (0.481, 0.836), (0.526, 0.849), (0.571, 0.823), (0.621, 0.818), (0.648, 0.849), (0.693, 0.862), (0.737, 0.875), (0.793, 0.875), (0.821, 0.823), (0.861, 0.836), (0.905, 0.844), (0.961, 0.849), (0.995, 0.86), (1.107, 0.854), (1.213, 0.849)],
    7: [(0, 0.7), (0.01, 1.2), (0.02, 1.5), (0.033, 1.84), (0.044, 1.94), (0.055, 2.02), (0.066, 2.01), (0.089, 1.89), (0.111, 1.865), (0.145, 1.88), (0.156, 1.825), (0.167, 1.63), (0.184, 1.54), (0.201, 1.50), (0.223, 1.45), (0.245, 1.474), (0.268, 1.487), (0.302, 1.474), (0.335, 1.435), (0.369, 1.474), (0.402, 1.45), (0.436, 1.46), (0.47, 1.45), (0.492, 1.40), (0.514, 1.46), (0.548, 1.487), (0.582, 1.474), (0.625, 1.474), (0.67, 1.42), (0.693, 1.474), (0.748, 1.487), (0.827, 1.487), (0.844, 1.45), (0.883, 1.435), (0.939, 1.435), (0.961, 1.40), (0.984, 1.42), (1.051, 1.40), (1.129, 1.39), (1.252, 1.378)],
}
b_star_stars = {10: 1.677, 4: 1.534, 2: 1.52, 8: 1.50, 11: 1.323, 6: 1.281, 7: 1.209,
                5: 1.044, 1: 0.974, 0: 0.857, 3: 0.641, 9: 0.388}

STAR_STEP = 1.3  # where the reference values are drawn, in units of 1e6 steps


def draw_panel(ax, traces, stars, ylabel, xlim, ylim, xstep, ystep, ms=5, legend=False):
    for c in cells:
        xs = [p[0] * 1e6 for p in traces[c]]
        ys = [p[1] for p in traces[c]]
        ax.plot(xs, ys, color=colours[c], lw=0.8)
    for c in cells:
        s = stars[c]
        if isinstance(s, tuple):
            sx, sy = s
        else:
            sx, sy = STAR_STEP, s
        ax.plot(sx * 1e6, sy, '*', color=colours[c], ms=ms, ls='none',
                label='Colour cell {}'.format(c))

    ax.set_xlim(xlim[0] * 1e6, xlim[1] * 1e6)
    ax.set_ylim(ylim)
    ax.xaxis.set_major_locator(MultipleLocator(xstep * 1e6))
    ax.yaxis.set_major_locator(MultipleLocator(ystep))
    ax.grid(True, color='#b8b8b8', lw=0.8)
    ax.set_axisbelow(True)
    for sp in ax.spines.values():
        sp.set_linewidth(2)
    ax.tick_params(labelsize=15)
    ax.xaxis.get_offset_text().set_fontsize(15)
    ax.set_xlabel('Approximate step number', fontsize=19)
    ax.set_ylabel(ylabel, fontsize=21)

    if legend:
        ax.legend(loc='lower left', ncol=4, fontsize=7, frameon=False, numpoints=1)


fig = plt.figure(figsize=(5.39, 15.04), dpi=100)

ax1 = fig.add_axes([0.1965, 0.8032, 0.7716, 0.1950])
draw_panel(ax1, mean_z, mean_z_stars, r'$<z>$', (-0.070, 1.364), (0.12, 1.59), 0.25, 0.25)

ax2 = fig.add_axes([0.1926, 0.5467, 0.8056, 0.2055])
draw_panel(ax2, sigma68, sigma68_stars, r'$\sigma_{68}(z)$', (-0.071, 1.452), (0.1, 0.25), 0.5, 0.025, ms=6)

ax3 = fig.add_axes([0.2054, 0.2874, 0.7928, 0.2051])
draw_panel(ax3, b_k, b_k_stars, r'$b_k$', (-0.0665, 1.362), (-0.1, 0.1), 0.25, 0.05)

ax4 = fig.add_axes([0.2054, 0.0419, 0.7876, 0.1957])
draw_panel(ax4, b_star, b_star_stars, r'$b^{*}$', (-0.067, 1.36), (-0.205, 2.095), 0.25, 0.5, legend=True)

fig.savefig('out.png', dpi=100)
